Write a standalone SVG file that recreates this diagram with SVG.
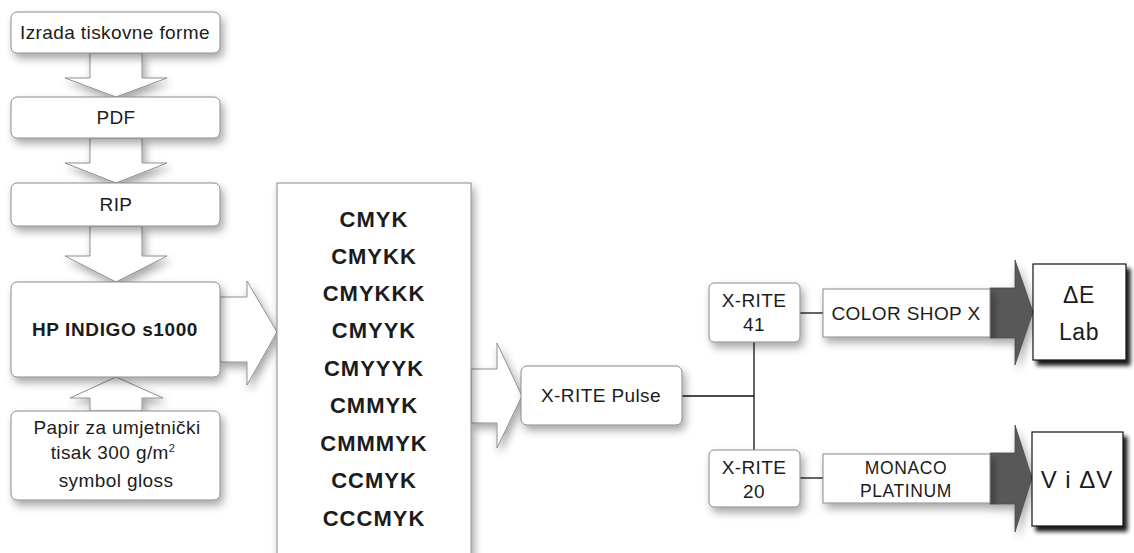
<svg xmlns="http://www.w3.org/2000/svg" width="1134" height="553" viewBox="0 0 1134 553">
<defs>
<filter id="soft" x="-20%" y="-20%" width="150%" height="160%"><feDropShadow dx="3" dy="5" stdDeviation="4" flood-color="#000" flood-opacity="0.35"/></filter>
<filter id="hard" x="-20%" y="-20%" width="150%" height="150%"><feDropShadow dx="4" dy="5" stdDeviation="2" flood-color="#000" flood-opacity="0.9"/></filter>
<style>
.rb{fill:#fff;stroke:#8a8a8a;stroke-width:1;filter:url(#soft)}
.sq{fill:#fff;stroke:#8a8a8a;stroke-width:1;filter:url(#soft)}
.blk{fill:#fff;stroke:#111;stroke-width:1.2;filter:url(#hard)}
.wa{fill:#fff;stroke:#8f8f8f;stroke-width:1;filter:url(#soft)}
.da{fill:#585858;stroke:#4a4a4a;stroke-width:0.8;filter:url(#soft)}
.ln{stroke:#111;stroke-width:1.3;fill:none}
text{font-family:"Liberation Sans",Arial,sans-serif;fill:#1c1c1c;text-anchor:middle}
.t18{font-size:19px;letter-spacing:0.4px}
.b18{font-size:19px;font-weight:bold;letter-spacing:0.6px}
.cm{font-size:22px;font-weight:bold;letter-spacing:1px}
.t17{font-size:17.5px;letter-spacing:0.6px}
.t22{font-size:23px;letter-spacing:0.6px}
</style>
</defs>
<g id="connectors">
<polygon class="wa" points="90,53 142,53 142,78 167,78 116,97 65,78 90,78"/>
<polygon class="wa" points="90,138 142,138 142,163 167,163 116,183 65,163 90,163"/>
<polygon class="wa" points="90,226 142,226 142,256 167,256 116,282 65,256 90,256"/>
<polygon class="wa" points="90,411 142,411 142,398 163,398 116,377 70,398 90,398"/>
<polygon class="wa" points="220,297 247,297 247,281 277,332 247,385 247,362 220,362"/>
<polygon class="wa" points="471,369 497,369 497,343 522,396 497,448 497,423 471,423"/>
<polyline class="ln" points="682,396 754,396"/>
<polyline class="ln" points="754,342 754,450"/>
<polyline class="ln" points="800,313 823,313"/>
<polyline class="ln" points="800,478 823,478"/>
<polygon class="da" points="990,288 1015,288 1015,260 1033,312 1015,365 1015,338 990,338"/>
<polygon class="da" points="990,453 1015,453 1015,425 1032,478 1015,532 1015,504 990,504"/>
</g>
<g id="n-izrada"><rect class="rb" x="11" y="12" width="209" height="41" rx="6"/><text class="t18" x="115" y="39">Izrada tiskovne forme</text></g>
<g id="n-pdf"><rect class="rb" x="11" y="97" width="209" height="41" rx="6"/><text class="t18" x="116" y="124">PDF</text></g>
<g id="n-rip"><rect class="rb" x="11" y="183" width="209" height="43" rx="6"/><text class="t18" x="116" y="211">RIP</text></g>
<g id="n-hp"><rect class="rb" x="11" y="282" width="209" height="95" rx="6"/><text class="b18" x="115" y="336">HP INDIGO s1000</text></g>
<g id="n-papir"><rect class="rb" x="11" y="411" width="209" height="89" rx="6"/>
<text class="t18" x="117" y="434">Papir za umjetnički</text>
<text class="t18" x="113" y="459">tisak 300 g/m<tspan font-size="11" dy="-7">2</tspan></text>
<text class="t18" x="116" y="487">symbol gloss</text></g>
<g id="n-cmyk"><rect class="sq" x="277" y="183" width="194" height="380"/>
<text class="cm" x="374" y="227">CMYK</text>
<text class="cm" x="374" y="264">CMYKK</text>
<text class="cm" x="374" y="301">CMYKKK</text>
<text class="cm" x="374" y="338">CMYYK</text>
<text class="cm" x="374" y="376">CMYYYK</text>
<text class="cm" x="374" y="413">CMMYK</text>
<text class="cm" x="374" y="451">CMMMYK</text>
<text class="cm" x="374" y="488">CCMYK</text>
<text class="cm" x="374" y="526">CCCMYK</text></g>
<g id="n-pulse"><rect class="rb" x="521" y="366" width="161" height="59" rx="6"/><text class="t18" x="601" y="402">X-RITE Pulse</text></g>
<g id="n-x41"><rect class="rb" x="709" y="283" width="91" height="59" rx="5"/><text class="t18" x="754" y="307">X-RITE</text><text class="t18" x="754" y="331">41</text></g>
<g id="n-x20"><rect class="rb" x="709" y="450" width="91" height="57" rx="5"/><text class="t18" x="754" y="474">X-RITE</text><text class="t18" x="754" y="498">20</text></g>
<g id="n-colorshop"><rect class="sq" x="823" y="289" width="167" height="48"/><text class="t18" x="906" y="320">COLOR SHOP X</text></g>
<g id="n-monaco"><rect class="sq" x="823" y="454" width="167" height="49"/><text class="t17" x="906" y="474">MONACO</text><text class="t17" x="906" y="497">PLATINUM</text></g>
<g id="n-de"><rect class="blk" x="1033" y="264" width="93" height="96"/><text class="t22" x="1079" y="303">ΔE</text><text class="t22" x="1079" y="340">Lab</text></g>
<g id="n-vdv"><rect class="blk" x="1032" y="432" width="91" height="94"/><text class="t22" x="1077" y="488" style="font-size:24px;letter-spacing:1px">V i ΔV</text></g>
</svg>
